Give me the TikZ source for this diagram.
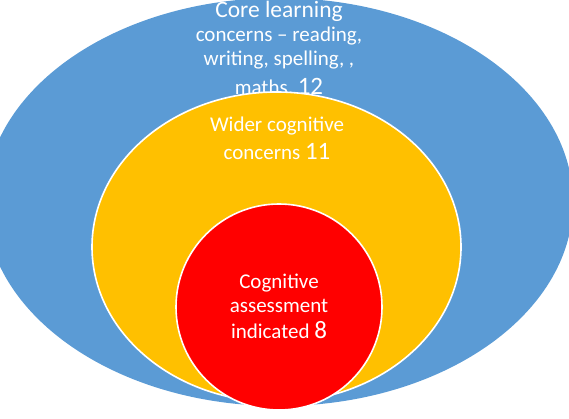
\documentclass[tikz,border=0pt]{standalone}
\usepackage{fontspec}
\setmainfont{Carlito}
\definecolor{outerblue}{HTML}{5B9BD5}
\definecolor{midgold}{HTML}{FFC000}
\definecolor{innerred}{HTML}{FF0000}
\begin{document}
\begin{tikzpicture}[x=1pt,y=-1pt,
  zone/.style={draw=white, line width=1.6pt},
  line/.style={text=white, inner sep=0pt, anchor=base, font=\fontsize{21}{24}\selectfont},
  bigline/.style={line, font=\fontsize{23.5}{27}\selectfont}]
\newcommand{\countnum}[1]{{\fontsize{25}{28}\selectfont #1}}
\useasboundingbox (0,0) rectangle (569,419);
\clip (0,0) rectangle (569,419);

% outer zone: core learning concerns
\fill[outerblue] (279,202) ellipse [x radius=294, y radius=204];
\node[bigline] (core1) at (279,18) {Core learning};
\node[line] (core2) at (279,42) {concerns -- reading,};
\node[line] (core3) at (279,66) {writing, spelling, ,};
\node[line] (core4) at (279,95) {maths.~\countnum{12}};

% middle zone: wider cognitive concerns (drawn over the last line above)
\path[zone, fill=midgold] (276.5,247) ellipse [x radius=184.5, y radius=155];
\node[line] (wide1) at (277,132) {Wider cognitive};
\node[line] (wide2) at (277,160) {concerns \countnum{11}};

% inner zone: cognitive assessment indicated
\path[zone, fill=innerred] (279,307) circle [radius=103];
\node[line] (assess1) at (279,288) {Cognitive};
\node[line] (assess2) at (279,312) {assessment};
\node[line] (assess3) at (279,338) {indicated \countnum{8}};
\end{tikzpicture}
\end{document}
